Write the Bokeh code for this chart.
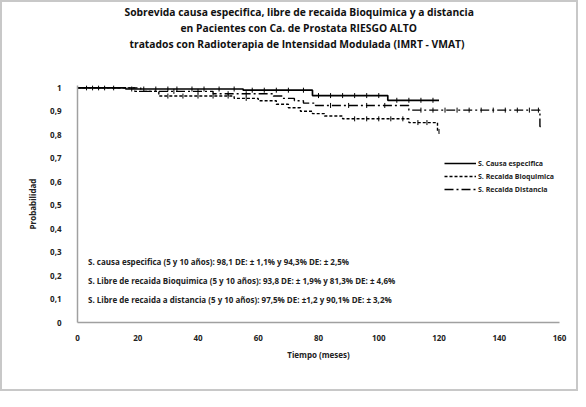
import numpy as np
from bokeh.plotting import figure
from bokeh.models import Range1d, FixedTicker, Label, Legend, LegendItem, Title
from bokeh.embed import file_html
from bokeh.resources import INLINE

# ---- data ----
title_lines = [
    "Sobrevida causa especifica, libre de recaida Bioquimica y a distancia",
    "en Pacientes con Ca. de Prostata RIESGO ALTO",
    "tratados con Radioterapia de Intensidad Modulada (IMRT - VMAT)",
]
series_names = ["S. Causa especifica", "S. Recaida Bioquimica", "S. Recaida Distancia"]

causa_t = [0, 16, 55, 78, 103, 120]
causa_s = [1.0, 0.995, 0.99, 0.967, 0.947, 0.947]
causa_cens = [3, 5, 7, 9, 12, 18, 22, 26, 30, 33, 38, 42, 47, 52, 58, 62, 66, 70, 75,
              80, 84, 88, 92, 96, 100, 106, 110, 114, 118]

bioq_t = [0, 19, 27, 52, 60, 66, 70, 74, 78, 82, 88, 110, 119.5, 120]
bioq_s = [1.0, 0.985, 0.965, 0.955, 0.945, 0.93, 0.915, 0.9, 0.89, 0.88, 0.868, 0.852, 0.814, 0.814]
bioq_cens = [30, 35, 40, 45, 50, 56, 92, 96, 100, 104, 108, 113, 116, 120]

dist_t = [0, 21, 45, 65, 68, 72, 75, 79, 110, 153.5, 154]
dist_s = [1.0, 0.985, 0.975, 0.965, 0.955, 0.945, 0.935, 0.925, 0.905, 0.835, 0.835]
dist_cens = [32, 40, 50, 56, 84, 90, 96, 102, 114, 118, 122, 126, 130, 134, 138,
             142, 146, 150, 153]

stats_lines = [
    "S. causa especifica (5 y 10 años): 98,1 DE: ± 1,1% y 94,3% DE: ± 2,5%",
    "S. Libre de recaida Bioquimica (5 y 10 años): 93,8 DE: ± 1,9% y 81,3% DE: ± 4,6%",
    "S. Libre de recaida a distancia (5 y 10 años): 97,5% DE: ±1,2  y 90,1%  DE: ± 3,2%",
]
y_ticks = [0, 0.1, 0.2, 0.3, 0.4, 0.5, 0.6, 0.7, 0.8, 0.9, 1.0]
y_tick_labels = ["0", "0,1", "0,2", "0,3", "0,4", "0,5", "0,6", "0,7", "0,8", "0,9", "1"]
x_ticks = [0, 20, 40, 60, 80, 100, 120, 140, 160]

FONT = "Open Sans"

p = figure(width=578, height=391, output_backend="svg", toolbar_location=None,
           x_range=Range1d(0, 160), y_range=Range1d(0, 1.01),
           min_border_left=75, min_border_right=21, min_border_top=0, min_border_bottom=71)
p.styles = {"border": "2px solid #c8c8c8", "box-sizing": "border-box"}
p.outline_line_color = None
p.xgrid.visible = False
p.ygrid.visible = False
p.background_fill_color = "white"
p.border_fill_color = "white"
p.title.visible = False

# spacer between the title block and the frame (first added = nearest the frame)
p.add_layout(Title(text=" ", text_font_size="1px", standoff=32), "above")
# title lines, from the one nearest the frame outwards
title_offsets = [52, 103, 47]  # left offsets for lines 3, 2, 1
for line, off in zip(reversed(title_lines), title_offsets):
    p.add_layout(Title(text=line, align="left", offset=off, standoff=0,
                       text_font=FONT, text_font_size="10.3px", text_font_style="bold",
                       text_color="#111111"), "above")

for ax in (p.xaxis[0], p.yaxis[0]):
    ax.axis_line_color = "#a0a0a0"
    ax.axis_line_width = 1.5
    ax.major_tick_line_color = None
    ax.minor_tick_line_color = None
    ax.major_label_text_font = FONT
    ax.major_label_text_font_size = "8px"
    ax.major_label_text_font_style = "bold"
    ax.major_label_text_color = "#222222"
    ax.axis_label_text_font = FONT
    ax.axis_label_text_font_size = "8px"
    ax.axis_label_text_font_style = "bold"
    ax.axis_label_text_color = "#222222"

p.xaxis.ticker = FixedTicker(ticks=x_ticks)
p.yaxis.ticker = FixedTicker(ticks=y_ticks)
p.yaxis.major_label_overrides = {t: l for t, l in zip(y_ticks, y_tick_labels)}
p.xaxis.axis_label = "Tiempo (meses)"
p.yaxis.axis_label = "Probabilidad"
p.xaxis.major_label_standoff = 6
p.yaxis.major_label_standoff = 10
p.xaxis.axis_label_standoff = 5
p.yaxis.axis_label_standoff = 9


def surv_at(times, surv, c):
    idx = np.searchsorted(np.array(times), np.array(c), side="right") - 1
    return np.array(surv)[idx]


styles = [
    dict(line_dash="solid", line_width=1.7),
    dict(line_dash="3 2", line_width=1.4),
    dict(line_dash="9 3 2 3", line_width=1.4),
]
data = [(causa_t, causa_s, causa_cens), (bioq_t, bioq_s, bioq_cens), (dist_t, dist_s, dist_cens)]
items = []
for (t, s, c), st, name in zip(data, styles, series_names):
    r = p.step(t, s, mode="after", line_color="black", **st)
    p.scatter(c, surv_at(t, s, c), marker="dash", angle=np.pi / 2, size=5,
              line_color="black", line_width=1)
    items.append(LegendItem(label=name, renderers=[r]))

legend = Legend(items=items, location=(367, 128), orientation="vertical",
                label_text_font=FONT, label_text_font_size="7px", label_text_font_style="bold",
                label_text_color="#222222", glyph_width=32, glyph_height=10,
                label_height=10, spacing=3, padding=2, margin=0, label_standoff=2,
                border_line_color=None, background_fill_alpha=0)
p.add_layout(legend, "center")

# stats notes inside the frame
for i, line in enumerate(stats_lines):
    p.add_layout(Label(x=3.5, y=0.26 - i * 0.081, text=line, text_align="left",
                       text_baseline="middle", text_font=FONT, text_font_size="8px",
                       text_font_style="bold", text_color="#222222"))

open("out.html", "w").write(file_html(p, INLINE))
